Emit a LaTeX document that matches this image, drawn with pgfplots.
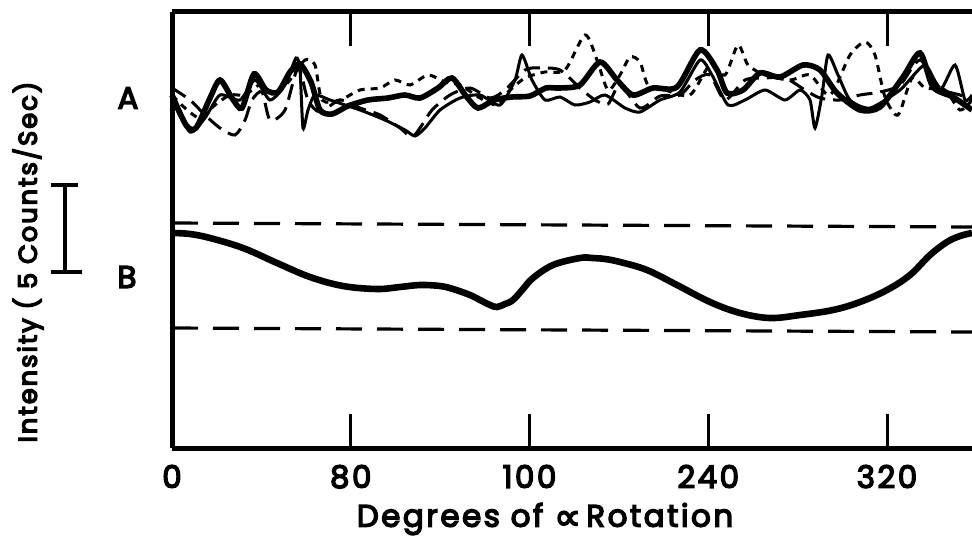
\documentclass[border=0pt]{standalone}
\usepackage{pgfplots}
\pgfplotsset{compat=1.18}
\usepackage{fontspec}
\setmainfont{Poppins}[LetterSpace=8]
\newfontfamily\dejavu{DejaVu Sans}
\newcommand\heavy{\special{pdf:literal direct 2 Tr 0.7 w}}
\begin{document}
\begin{tikzpicture}
\begin{axis}[
  x=0.5pt, y=0.5pt, y dir=reverse,
  xmin=172, xmax=972, ymin=12, ymax=448,
  axis x line*=box, axis y line*=left,
  axis line style={line width=2.5pt},
  xtick={172,350.75,529.5,708.25,887},
  xticklabels={0,80,100,240,320},
  xtick pos=both, tick align=inside,
  major tick length=17pt,
  every tick/.style={black, line width=1.5pt},
  ytick=\empty,
  xticklabel style={font=\fontsize{15.5}{15.5}\selectfont\heavy, yshift=-5pt},
  clip=false,
]
\coordinate (BL) at (axis cs:0,540);
\coordinate (TR) at (axis cs:972,0);
% reference dashed lines
\addplot[black, line width=1.6pt, dash pattern=on 13pt off 7.5pt] coordinates {(172,223) (972,227)};
\addplot[black, line width=1.6pt, dash pattern=on 13pt off 7.5pt] coordinates {(172,328) (972,332)};
% curve B
\addplot[black, line width=3.3pt, smooth, tension=0.6] coordinates {
(173,233)(190,234)(210,238)(243,248)(277,263)(310,277)(343,286)(377,289)(400,287)(420,285)(440,286)(453,289)(470,295)(480,300)(490,305)(497,307)(505,304)(513,300)(523,289)(533,278)(553,265)(580,258)(592,258)(605,259)(620,262)(647,270)(677,285)(710,302)(740,313)(770,318)(800,315)(833,310)(860,302)(887,290)(910,275)(930,255)(947,242)(960,236)(972,233)};
% curves A: dotted
\addplot[black, line width=1.5pt, dash pattern=on 3.5pt off 3pt, smooth, tension=0.45] coordinates {
(172,95)(185,108)(200,118)(215,105)(230,95)(245,95)(260,85)(275,95)(290,80)(305,60)(315,65)(322,100)(340,100)(360,90)(380,88)(395,80)(410,85)(428,75)(445,82)(460,85)(480,98)(497,105)(508,92)(525,78)(545,72)(565,70)(585,35)(597,60)(608,90)(620,75)(630,57)(640,62)(648,85)(665,90)(690,95)(710,65)(725,75)(738,45)(748,65)(765,75)(790,80)(810,75)(830,95)(850,55)(865,42)(875,55)(885,97)(898,115)(912,78)(925,88)(945,90)(960,110)(972,100)};
% dashed
\addplot[black, line width=1.5pt, dash pattern=on 8pt off 4pt, smooth, tension=0.45] coordinates {
(172,88)(190,100)(205,115)(220,128)(235,135)(245,120)(252,100)(262,92)(270,120)(285,110)(298,68)(308,100)(320,112)(340,100)(360,108)(380,115)(400,128)(412,137)(422,125)(432,110)(450,95)(470,88)(490,98)(505,90)(525,70)(540,68)(560,70)(580,88)(595,100)(608,104)(620,85)(640,108)(660,96)(680,95)(695,80)(710,75)(725,100)(745,80)(765,78)(785,78)(805,90)(820,98)(840,100)(860,95)(880,92)(900,85)(920,60)(940,88)(960,95)(972,100)};
% thin solid
\addplot[black, line width=1.5pt, smooth, tension=0.4] coordinates {
(172,100)(190,132)(205,118)(220,95)(240,100)(255,80)(270,100)(285,85)(296,58)(300,70)(303,128)(308,110)(315,95)(330,100)(360,110)(385,120)(405,130)(415,136)(425,128)(440,110)(460,98)(480,95)(500,105)(515,80)(522,55)(532,80)(545,100)(560,97)(575,105)(590,102)(605,95)(625,108)(640,112)(660,100)(680,92)(700,60)(712,75)(728,105)(745,100)(765,90)(785,100)(800,90)(810,100)(815,128)(822,95)(828,55)(838,75)(850,100)(870,108)(900,90)(925,65)(940,90)(955,65)(965,100)(972,95)};
% thick solid
\addplot[black, line width=2.8pt, smooth, tension=0.45] coordinates {
(172,95)(186,125)(196,128)(210,98)(220,80)(232,98)(242,108)(254,74)(266,90)(278,92)(290,72)(300,64)(311,82)(320,110)(332,114)(348,106)(368,100)(388,98)(405,95)(420,98)(438,88)(452,78)(466,96)(478,108)(494,100)(512,97)(530,96)(546,88)(560,88)(580,85)(600,62)(617,80)(633,95)(653,88)(677,87)(700,50)(717,70)(727,93)(743,90)(760,73)(780,77)(803,65)(820,70)(837,93)(860,110)(880,107)(903,77)(920,53)(933,87)(953,97)(972,110)};
% labels
\node[font=\fontsize{15.5}{15.5}\selectfont\heavy] at (axis cs:545,519) {Degrees of \raisebox{-1.5pt}{\dejavu\fontsize{19}{19}\selectfont ∝}\,Rotation};
\node[rotate=90, font=\fontsize{12.8}{12.8}\selectfont\heavy] at (axis cs:28,262) {Intensity ( 5 Counts/Sec)};
\node[font=\fontsize{15.5}{15.5}\selectfont\heavy] at (axis cs:128,98) {A};
\node[font=\fontsize{15.5}{15.5}\selectfont\heavy] at (axis cs:127,277) {B};
% scale bar
\draw[line width=2pt] (axis cs:65,185) -- (axis cs:65,272);
\draw[line width=2pt] (axis cs:51,185) -- (axis cs:78,185);
\draw[line width=2pt] (axis cs:51,272) -- (axis cs:82,272);
\end{axis}
\pgfresetboundingbox
\path[use as bounding box] (BL) rectangle (TR);
\end{tikzpicture}
\end{document}
